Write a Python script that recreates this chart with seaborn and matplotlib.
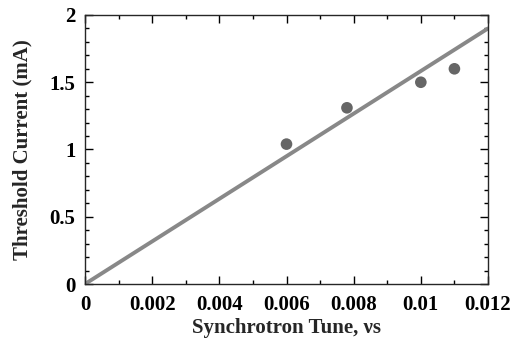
import matplotlib
matplotlib.use("Agg")
import matplotlib.pyplot as plt
from matplotlib.ticker import MultipleLocator, FuncFormatter
import seaborn as sns
import pandas as pd

# Data
tune = [0.006, 0.0078, 0.010, 0.011]
current = [1.04, 1.31, 1.50, 1.60]
fit_x = [0.0, 0.012]
fit_y = [0.0, 1.90]

sns.set_style("ticks")
plt.rcParams['font.family'] = ['Liberation Serif', 'DejaVu Serif']
plt.rcParams['font.weight'] = 'bold'

fig = plt.figure(figsize=(5.18, 3.42), dpi=100)
ax = fig.add_axes([85/518, 58/342, 403/518, 269/342])

pts = pd.DataFrame({"x": tune, "y": current})
fit = pd.DataFrame({"x": fit_x, "y": fit_y})

sns.lineplot(data=fit, x="x", y="y", ax=ax, color="#888888", linewidth=2.8)
sns.scatterplot(data=pts, x="x", y="y", ax=ax, color="#666666", s=70,
                edgecolor="none", zorder=3)

ax.set_xlim(0, 0.012)
ax.set_ylim(0, 2)
ax.xaxis.set_major_locator(MultipleLocator(0.002))
ax.xaxis.set_minor_locator(MultipleLocator(0.001))
ax.yaxis.set_major_locator(MultipleLocator(0.5))
ax.yaxis.set_minor_locator(MultipleLocator(0.1))

def fmt(v, pos):
    s = ('%.3f' % v).rstrip('0').rstrip('.')
    return s if s else '0'
ax.xaxis.set_major_formatter(FuncFormatter(fmt))
ax.yaxis.set_major_formatter(FuncFormatter(lambda v, p: ('%.1f' % v).rstrip('0').rstrip('.')))

ax.tick_params(which='both', direction='in', top=True, right=True,
               labelsize=15, width=1, colors='black')
ax.tick_params(which='major', length=6)
ax.tick_params(axis='x', which='major', pad=8)
ax.tick_params(axis='y', which='major', pad=7)
ax.tick_params(which='minor', length=3)
for lab in ax.get_xticklabels() + ax.get_yticklabels():
    lab.set_fontweight('bold')
for sp in ax.spines.values():
    sp.set_linewidth(1)
    sp.set_visible(True)

ax.set_xlabel("Synchrotron Tune, νs", fontsize=15, fontweight='bold', labelpad=2)
ax.set_ylabel("Threshold Current (mA)", fontsize=15, fontweight='bold', labelpad=12)

fig.savefig("out.png", dpi=100)
